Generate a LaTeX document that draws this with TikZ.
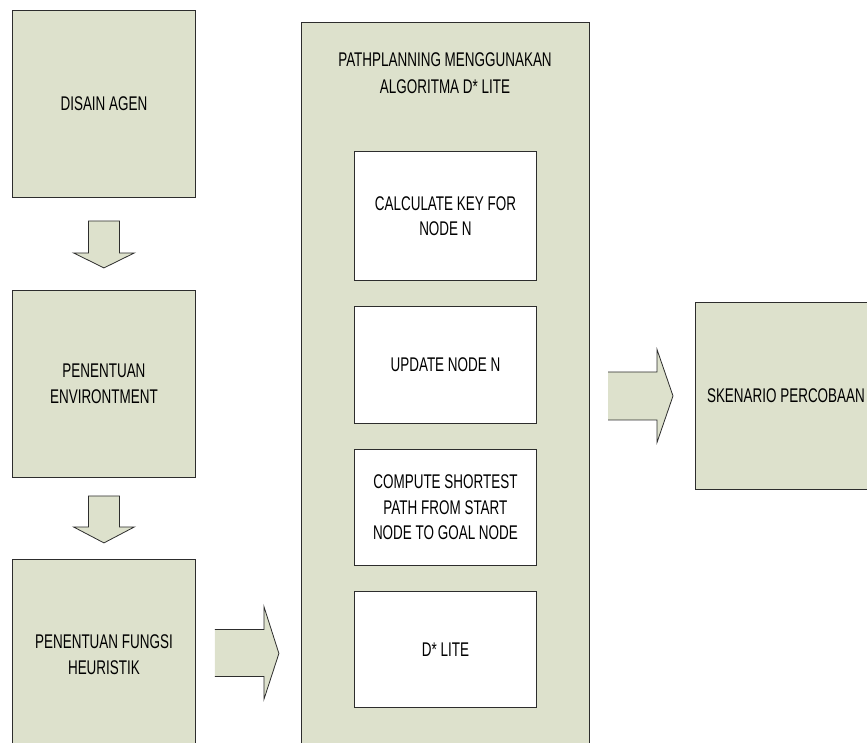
\documentclass[tikz,border=0pt]{standalone}
\usepackage{fontspec}
\setmainfont[FakeStretch=0.68]{Liberation Sans}
\usetikzlibrary{calc}
\definecolor{boxfill}{RGB}{221,225,204}
\definecolor{edge}{RGB}{45,45,45}
\tikzset{
  x=1pt, y=-1pt,
  box/.style={draw=edge, line width=0.9pt, fill=boxfill, anchor=north west,
    inner sep=0pt, align=center, font=\fontsize{19.8}{25.5}\selectfont},
  inbox/.style={box, fill=white},
  plain/.style={align=center, inner sep=0pt, font=\fontsize{19.8}{26.5}\selectfont},
  arrowfill/.style={fill=boxfill},
  arrowline/.style={draw=edge, line width=0.8pt, line join=miter},
}
\begin{document}
\begin{tikzpicture}
\useasboundingbox (0,0) rectangle (867,742);
\clip (0,0) rectangle (867,742);
% left column
\node[box, minimum width=183, minimum height=187] (agen) at (12,10) {DISAIN AGEN};
\node[box, minimum width=183, minimum height=187] (env) at (12,290) {PENENTUAN\\ENVIRONTMENT};
\node[box, minimum width=183, minimum height=190] (heur) at (12,559) {PENENTUAN FUNGSI\\HEURISTIK};
% middle big box
\node[box, minimum width=288, minimum height=735] (pp) at (301,22) {};
\node[plain] (title) at (445,73) {PATHPLANNING MENGGUNAKAN\\ALGORITMA D* LITE};
\node[inbox, minimum width=182, minimum height=129] (calc) at (354,151) {CALCULATE KEY FOR\\NODE N};
\node[inbox, minimum width=182, minimum height=117] (upd) at (354,306) {UPDATE NODE N};
\node[inbox, minimum width=182, minimum height=116] (comp) at (354,449) {COMPUTE SHORTEST\\PATH FROM START\\NODE TO GOAL NODE};
\node[inbox, minimum width=182, minimum height=116] (dlite) at (354,591) {D* LITE};
% right box
\node[box, minimum width=181, minimum height=187] (sken) at (695,302) {SKENARIO PERCOBAAN};
% down arrow 1
\coordinate (c1) at ($(agen.south)+(0,23)$);
\fill[arrowfill] ($(c1)+(-15.5,0)$) -- ++(31,0) -- ++(0,32) -- ++(15,0) -- ++(-30.5,15) -- ++(-30.5,-15) -- ++(15,0) -- cycle;
\draw[arrowline] ($(c1)+(-15.5,0)$) -- ++(31,0) -- ++(0,32) -- ++(15,0) -- ++(-30.5,15) -- ++(-30.5,-15) -- ++(15,0) -- cycle;
% down arrow 2
\coordinate (c2) at ($(env.south)+(0,18)$);
\fill[arrowfill] ($(c2)+(-15.5,0)$) -- ++(31,0) -- ++(0,31) -- ++(15,0) -- ++(-30.5,16) -- ++(-30.5,-16) -- ++(15,0) -- cycle;
\draw[arrowline] ($(c2)+(-15.5,0)$) -- ++(31,0) -- ++(0,31) -- ++(15,0) -- ++(-30.5,16) -- ++(-30.5,-16) -- ++(15,0) -- cycle;
% right arrow 3
\coordinate (c3) at ($(heur.east)+(19,-1)$);
\fill[arrowfill] ($(c3)+(0,-24)$) -- ++(49,0) -- ++(0,-23) -- ++(15,47) -- ++(-15,46) -- ++(0,-23) -- ++(-49,0) -- cycle;
\draw[arrowline] ($(c3)+(0,-24)$) -- ++(49,0) -- ++(0,-23) -- ++(15,47) -- ++(-15,46) -- ++(0,-23) -- ++(-49,0);
% right arrow 4
\coordinate (c4) at ($(sken.west)+(-87,0)$);
\fill[arrowfill] ($(c4)+(0,-24)$) -- ++(49,0) -- ++(0,-22.5) -- ++(16,46.5) -- ++(-16,46.5) -- ++(0,-22.5) -- ++(-49,0) -- cycle;
\draw[arrowline] ($(c4)+(0,-24)$) -- ++(49,0) -- ++(0,-22.5) -- ++(16,46.5) -- ++(-16,46.5) -- ++(0,-22.5) -- ++(-49,0);
\end{tikzpicture}
\end{document}
